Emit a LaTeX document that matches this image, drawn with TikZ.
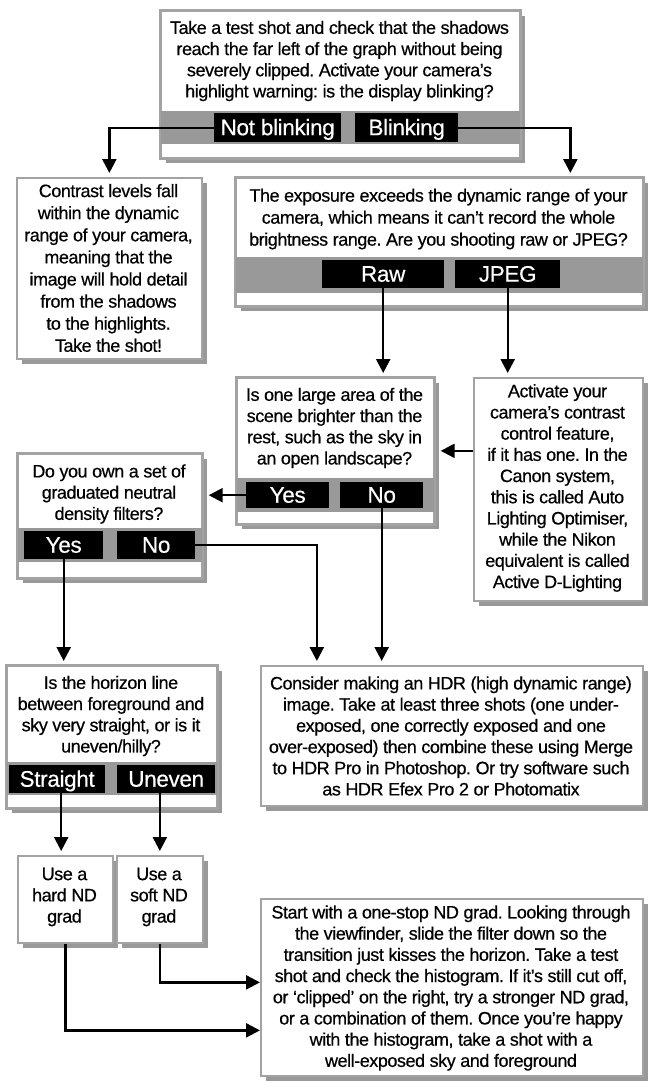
\documentclass[tikz,border=0pt]{standalone}
\usepackage{fontspec}
\setmainfont[LetterSpace=-2.5,FakeBold=0.5]{Liberation Sans}
\newfontfamily\labfamily[LetterSpace=-1.5,FakeBold=0.4]{Liberation Sans}
\usetikzlibrary{arrows.meta,shadows,calc}
\frenchspacing
\definecolor{bandc}{gray}{0.60}
\definecolor{shadc}{gray}{0.60}
\definecolor{bordc}{gray}{0.64}
\newcommand\bodyfnt{\fontsize{18}{21.2}\selectfont}
\newcommand\labfnt{\labfamily\fontsize{22.5}{24}\selectfont}
\tikzset{
  box/.style={draw=bordc, line width=1.7pt, fill=white, inner sep=0pt, anchor=north west,
    drop shadow={shadow xshift=5pt, shadow yshift=-5pt, fill=shadc, opacity=1}},
  txt/.style={align=center, inner sep=0pt, font=\bodyfnt, anchor=center},
  lab/.style={fill=black, text=white, inner sep=0pt, anchor=north west, font=\labfnt,
    text height=17pt, text depth=2pt},
  band/.style={fill=bandc},
  arr/.style={draw=black, line width=2.4pt, -{Triangle[length=14pt,width=14pt]}},
}
\begin{document}
\begin{tikzpicture}[x=1pt,y=-1pt]
\useasboundingbox (0,0) rectangle (648,1081);
% ---- boxes
\node[box, minimum width=359pt, minimum height=147pt] (A) at (160,10) {};
\node[box, minimum width=185pt, minimum height=181pt] (B) at (16,177) {};
\node[box, minimum width=407pt, minimum height=128pt] (C) at (235,177) {};
\node[box, minimum width=197pt, minimum height=146pt] (D) at (236,377) {};
\node[box, minimum width=169pt, minimum height=223pt] (E) at (473,377) {};
\node[box, minimum width=184pt, minimum height=124pt] (F) at (17,453) {};
\node[box, minimum width=210pt, minimum height=142pt] (G) at (6,665) {};
\node[box, minimum width=382pt, minimum height=140pt] (H) at (260,665) {};
\node[box, minimum width=95pt, minimum height=87pt] (I) at (17,855) {};
\node[box, minimum width=86pt, minimum height=87pt] (J) at (116,855) {};
\node[box, minimum width=382pt, minimum height=177pt] (K) at (260,898) {};
% ---- bands
\fill[band] (A.west |- 0,111) rectangle (A.east |- 0,144);
\fill[band] (C.west |- 0,257) rectangle (C.east |- 0,293);
\fill[band] (D.west |- 0,478) rectangle (D.east |- 0,512);
\fill[band] (F.west |- 0,528) rectangle (F.east |- 0,562);
\fill[band] (G.west |- 0,762) rectangle (G.east |- 0,795);
\foreach \b in {A,C,D,F,G} \draw[bordc, line width=1.7pt] (\b.north west) rectangle (\b.south east);
% ---- texts
\node[txt] (At) at (339.5,61) {Take a test shot and check that the shadows\\reach the far left of the graph without being\\severely clipped. Activate your camera’s\\highlight warning: is the display blinking?};
\node[txt, font=\fontsize{18}{22.1}\selectfont] (Bt) at (108.5,268) {Contrast levels fall\\within the dynamic\\range of your camera,\\meaning that the\\image will hold detail\\from the shadows\\to the highlights.\\Take the shot!};
\node[txt, font=\fontsize{18}{22}\selectfont] (Ct) at (438.5,219) {The exposure exceeds the dynamic range of your\\camera, which means it can’t record the whole\\brightness range. Are you shooting raw or JPEG?};
\node[txt] (Dt) at (334.5,428) {Is one large area of the\\scene brighter than the\\rest, such as the sky in\\an open landscape?};
\node[txt] (Et) at (557.5,488) {Activate your\\camera’s contrast\\control feature,\\if it has one. In the\\Canon system,\\this is called Auto\\Lighting Optimiser,\\while the Nikon\\equivalent is called\\Active D-Lighting};
\node[txt] (Ft) at (109,494) {Do you own a set of\\graduated neutral\\density filters?};
\node[txt] (Gt) at (111,716) {Is the horizon line\\between foreground and\\sky very straight, or is it\\uneven/hilly?};
\node[txt] (Ht) at (451,736) {Consider making an HDR (high dynamic range)\\image. Take at least three shots (one under-\\exposed, one correctly exposed and one\\over-exposed) then combine these using Merge\\to HDR Pro in Photoshop. Or try software such\\as HDR Efex Pro 2 or Photomatix};
\node[txt] (It) at (64.5,897) {Use a\\hard ND\\grad};
\node[txt] (Jt) at (159,897) {Use a\\soft ND\\grad};
\node[txt] (Kt) at (451,988) {Start with a one-stop ND grad. Looking through\\the viewfinder, slide the filter down so the\\transition just kisses the horizon. Take a test\\shot and check the histogram. If it’s still cut off,\\or ‘clipped’ on the right, try a stronger ND grad,\\or a combination of them. Once you’re happy\\with the histogram, take a shot with a\\well-exposed sky and foreground};
% ---- labels
\node[lab, minimum width=127pt, minimum height=29pt] (NB) at (214,113) {Not blinking};
\node[lab, minimum width=103pt, minimum height=29pt] (BL) at (355,113) {Blinking};
\node[lab, minimum width=122pt, minimum height=28pt] (Raw) at (322,260) {Raw};
\node[lab, minimum width=105pt, minimum height=28pt] (JP) at (455,260) {JPEG};
\node[lab, minimum width=83pt, minimum height=26pt, text height=16pt, text depth=1pt] (DY) at (246,482) {Yes};
\node[lab, minimum width=83pt, minimum height=26pt, text height=16pt, text depth=1pt] (DN) at (340,482) {No};
\node[lab, minimum width=79pt, minimum height=28pt] (FY) at (24,531) {Yes};
\node[lab, minimum width=78pt, minimum height=28pt] (FN) at (117,531) {No};
\node[lab, minimum width=96pt, minimum height=28pt] (GS) at (9,765) {Straight};
\node[lab, minimum width=98pt, minimum height=28pt] (GU) at (117,765) {Uneven};
% ---- connectors
\draw[arr, shorten >=4pt] (NB.west) -| (B.north);
\draw[arr, shorten >=4pt] (BL.east) -| ([xshift=131pt]C.north);
\draw[arr, shorten >=4pt] (Raw.south) -- (Raw.south |- D.north);
\draw[arr, shorten >=4pt] (JP.south) -- (JP.south |- E.north);
\draw[arr, shorten >=6pt] (E.west |- D.center) -- (D.east |- D.center);
\draw[arr, shorten >=6pt] (DY.west) -- (F.east |- DY.west);
\draw[arr, shorten >=4pt] (FN.east) -| ([xshift=-135pt]H.north);
\draw[arr, shorten >=4pt] (DN.south) -- (DN.south |- H.north);
\draw[arr, shorten >=4pt] (FY.south) -- (FY.south |- G.north);
\draw[arr, shorten >=4pt] ([xshift=4pt]GS.south) -- ([xshift=4pt]GS.south |- I.north);
\draw[arr, shorten >=4pt] (J.north |- GU.south) -- (J.north);
\draw[arr] (J.south) |- ([yshift=5pt]K.west);
\draw[arr] (I.south) |- ([yshift=-43pt]K.west);
\end{tikzpicture}
\end{document}
